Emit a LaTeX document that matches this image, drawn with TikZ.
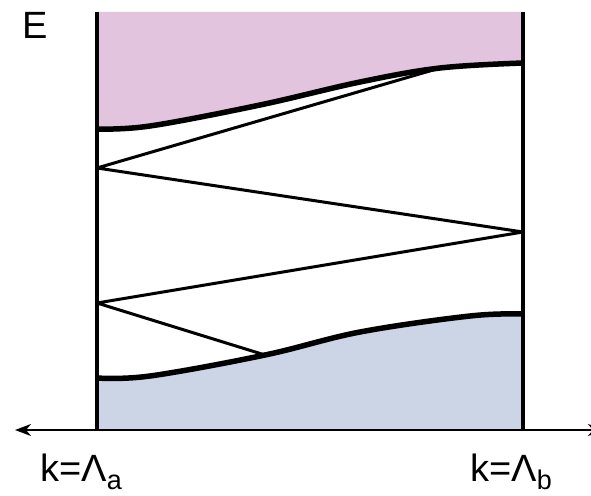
\documentclass[tikz,border=0pt]{standalone}
\usepackage{fontspec}
\usetikzlibrary{arrows.meta}
\setmainfont{Liberation Sans}
\newcommand\lowidx[1]{\raisebox{-0.22em}{\fontsize{27}{27}\selectfont #1}}
\begin{document}
\begin{tikzpicture}[
  x=1pt, y=-1pt,
  band/.style={line width=5.5pt},
  wall/.style={line width=3.2pt},
  ray/.style={line width=3pt, line join=bevel},
  lbl/.style={anchor=base west, inner sep=0pt, font=\fontsize{38}{40}\selectfont},
  >={Stealth[length=16pt, width=12pt, inset=5pt]}
]
  \definecolor{topband}{RGB}{226,196,223}
  \definecolor{lowband}{RGB}{203,213,230}
  \useasboundingbox (0,0) rectangle (591,495);
  % Bounce points
  \coordinate (T0) at (97,129);
  \coordinate (T1) at (440,68);
  \coordinate (T2) at (523,63);
  \coordinate (L1) at (97,168);
  \coordinate (R1) at (523,232);
  \coordinate (L2) at (97,303);
  \coordinate (B1) at (265,355);
  \coordinate (B0) at (97,378);
  \coordinate (B2) at (523,314);
  % Bands
  \fill[topband] (97,12) --plot[smooth, tension=0.6] coordinates {(T0) (150,126) (260,105) (360,82) (T1) (T2)} -- (523,12) -- cycle;
  \fill[lowband] (97,430) --plot[smooth, tension=0.6] coordinates {(B0) (150,376) (B1) (360,332) (470,316) (B2)} -- (523,430) -- cycle;
  \draw[band] plot[smooth, tension=0.6] coordinates {(T0) (150,126) (260,105) (360,82) (T1) (T2)};
  \draw[band] plot[smooth, tension=0.6] coordinates {(B0) (150,376) (B1) (360,332) (470,316) (B2)};
  % Zigzag
  \draw[ray] (B1) -- (L2) -- (R1) -- (L1) -- (T1);
  % Walls
  \coordinate (Wa) at (97,12);
  \coordinate (Wb) at (523,12);
  \coordinate (Fa) at (97,430);
  \coordinate (Fb) at (523,430);
  \draw[wall] (Wa) -- (Fa);
  \draw[wall] (Wb) -- (Fb);
  % k axis
  \coordinate (Xl) at (15,430);
  \coordinate (Xr) at (604,430);
  \draw[<->, line width=2.2pt] (Xl) -- (Xr);
  % Labels
  \node[lbl] (E) at (22,38) {E};
  \node[lbl] (ka) at (40,481) {k=Λ\lowidx{a}};
  \node[lbl] (kb) at (470,481) {k=Λ\lowidx{b}};
\end{tikzpicture}
\end{document}
